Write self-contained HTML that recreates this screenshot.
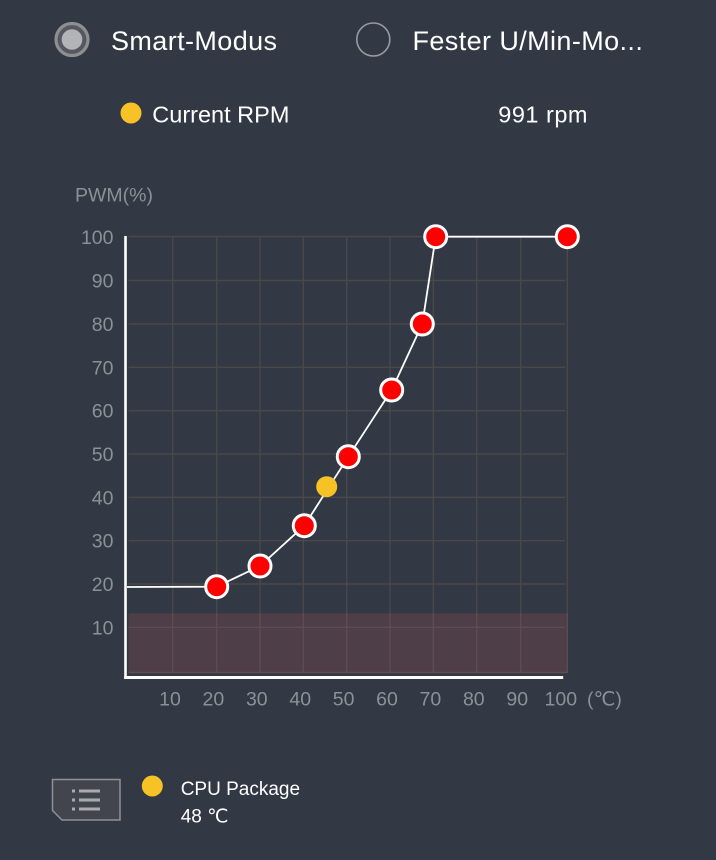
<!DOCTYPE html>
<html>
<head>
<meta charset="utf-8">
<style>
html,body{margin:0;padding:0;background:#323844;}
body{width:716px;height:860px;overflow:hidden;position:relative;font-family:"Liberation Sans","DejaVu Sans",sans-serif;}
svg{position:absolute;left:0;top:0;}
</style>
</head>
<body>
<svg width="716" height="860" viewBox="0 0 716 860" xmlns="http://www.w3.org/2000/svg">
  <rect x="0" y="0" width="716" height="860" fill="#323844"/>

  <!-- Radio 1 (selected) -->
  <circle cx="72" cy="39.5" r="16" fill="#555860" stroke="#8e8f93" stroke-width="3.2"/>
  <circle cx="72" cy="39.5" r="10.3" fill="#b3b4b8"/>
  <text x="111" y="50" font-size="27" fill="#ffffff" letter-spacing="0.4">Smart-Modus</text>

  <!-- Radio 2 -->
  <circle cx="373.3" cy="39.5" r="16.5" fill="none" stroke="#9a9ca0" stroke-width="1.6"/>
  <text x="412.5" y="50" font-size="27" fill="#ffffff" letter-spacing="0.4">Fester U/Min-Mo...</text>

  <!-- Current RPM -->
  <circle cx="131" cy="113" r="10.5" fill="#f6c225"/>
  <text x="152.3" y="122.5" font-size="23.5" fill="#ffffff">Current RPM</text>
  <text x="498.3" y="122.5" font-size="23.5" fill="#ffffff" letter-spacing="0.5">991 rpm</text>

  <!-- PWM label -->
  <text x="75" y="201.5" font-size="19.5" fill="#8c9097">PWM(%)</text>

  <!-- Pink region -->
  <rect x="128.5" y="613.3" width="438.8" height="59.7" fill="#4e3e48"/>

  <!-- Grid -->
  <g stroke="#4a4848" stroke-width="1.4" fill="none">
    <line x1="128.5" y1="236.5" x2="567.3" y2="236.5"/>
    <line x1="128.5" y1="280.5" x2="565" y2="280.5"/>
    <line x1="128.5" y1="324" x2="565" y2="324"/>
    <line x1="128.5" y1="367.3" x2="565" y2="367.3"/>
    <line x1="128.5" y1="410.7" x2="565" y2="410.7"/>
    <line x1="128.5" y1="454" x2="565" y2="454"/>
    <line x1="128.5" y1="497.3" x2="565" y2="497.3"/>
    <line x1="128.5" y1="540.7" x2="565" y2="540.7"/>
    <line x1="128.5" y1="584" x2="565" y2="584"/>
    <line x1="172.7" y1="236.5" x2="172.7" y2="613"/>
    <line x1="216.7" y1="236.5" x2="216.7" y2="613"/>
    <line x1="260" y1="236.5" x2="260" y2="613"/>
    <line x1="303.3" y1="236.5" x2="303.3" y2="613"/>
    <line x1="346.7" y1="236.5" x2="346.7" y2="613"/>
    <line x1="390" y1="236.5" x2="390" y2="613"/>
    <line x1="433.3" y1="236.5" x2="433.3" y2="613"/>
    <line x1="476.7" y1="236.5" x2="476.7" y2="613"/>
    <line x1="520.7" y1="236.5" x2="520.7" y2="613"/>
    <line x1="567.3" y1="236.5" x2="567.3" y2="613"/>
  </g>
  <g stroke="#5f4b50" stroke-width="1.4" fill="none">
    <line x1="128.5" y1="627.3" x2="565" y2="627.3"/>
    <line x1="172.7" y1="613" x2="172.7" y2="673"/>
    <line x1="216.7" y1="613" x2="216.7" y2="673"/>
    <line x1="260" y1="613" x2="260" y2="673"/>
    <line x1="303.3" y1="613" x2="303.3" y2="673"/>
    <line x1="346.7" y1="613" x2="346.7" y2="673"/>
    <line x1="390" y1="613" x2="390" y2="673"/>
    <line x1="433.3" y1="613" x2="433.3" y2="673"/>
    <line x1="476.7" y1="613" x2="476.7" y2="673"/>
    <line x1="520.7" y1="613" x2="520.7" y2="673"/>
    <line x1="567.3" y1="613" x2="567.3" y2="673"/>
    <line x1="128.5" y1="672.5" x2="567.3" y2="672.5"/>
  </g>

  <!-- Axes -->
  <rect x="124.2" y="236" width="2.6" height="443" fill="#ffffff"/>
  <rect x="124.2" y="676" width="439" height="3" fill="#ffffff"/>

  <!-- Y labels -->
  <g font-size="19.5" fill="#8c9097" text-anchor="end">
    <text x="113.5" y="244">100</text>
    <text x="113.5" y="287.5">90</text>
    <text x="113.5" y="331">80</text>
    <text x="113.5" y="374.3">70</text>
    <text x="113.5" y="417.7">60</text>
    <text x="113.5" y="461">50</text>
    <text x="113.5" y="504.3">40</text>
    <text x="113.5" y="547.7">30</text>
    <text x="113.5" y="591">20</text>
    <text x="113.5" y="634.3">10</text>
  </g>

  <!-- X labels -->
  <g font-size="19.5" fill="#8c9097" text-anchor="middle">
    <text x="170" y="705.7">10</text>
    <text x="213.4" y="705.7">20</text>
    <text x="256.8" y="705.7">30</text>
    <text x="300.2" y="705.7">40</text>
    <text x="343.6" y="705.7">50</text>
    <text x="387" y="705.7">60</text>
    <text x="430.4" y="705.7">70</text>
    <text x="473.8" y="705.7">80</text>
    <text x="517.2" y="705.7">90</text>
    <text x="560.8" y="705.7">100</text>
  </g>
  <text x="587" y="705.7" font-size="19.5" fill="#8c9097">(℃)</text>

  <!-- Curve -->
  <polyline points="127,587 216.7,586.7 260,566 304.3,525.7 348.3,456.7 391.7,390 422.3,324 435.7,236.7 567.3,236.7" fill="none" stroke="#ffffff" stroke-width="1.8"/>

  <!-- Current point -->
  <circle cx="326.7" cy="486.7" r="10.5" fill="#f6c225"/>

  <!-- Control points -->
  <g fill="#ff0000" stroke="#ffffff" stroke-width="3">
    <circle cx="216.7" cy="586.7" r="11"/>
    <circle cx="260" cy="566" r="11"/>
    <circle cx="304.3" cy="525.7" r="11"/>
    <circle cx="348.3" cy="456.7" r="11"/>
    <circle cx="391.7" cy="390" r="11"/>
    <circle cx="422.3" cy="324" r="11"/>
    <circle cx="435.7" cy="236.7" r="11"/>
    <circle cx="567.3" cy="236.7" r="11"/>
  </g>

  <!-- Bottom icon -->
  <path d="M52.5,779.5 L120,779.5 L120,820 L62,820 L52.5,810.5 Z" fill="#42454e" stroke="#8f9196" stroke-width="1.5"/>
  <g fill="#a8aab0">
    <rect x="72" y="789.5" width="3" height="3"/>
    <rect x="79" y="789.5" width="21" height="3"/>
    <rect x="72" y="798.5" width="3" height="3"/>
    <rect x="79" y="798.5" width="21" height="3"/>
    <rect x="72" y="807.5" width="3" height="3"/>
    <rect x="79" y="807.5" width="21" height="3"/>
  </g>

  <!-- CPU Package -->
  <circle cx="152.3" cy="786" r="10.5" fill="#f6c225"/>
  <text x="180.7" y="795" font-size="19" fill="#ffffff">CPU Package</text>
  <text x="180.7" y="822.7" font-size="19" fill="#ffffff">48 ℃</text>
</svg>
</body>
</html>
